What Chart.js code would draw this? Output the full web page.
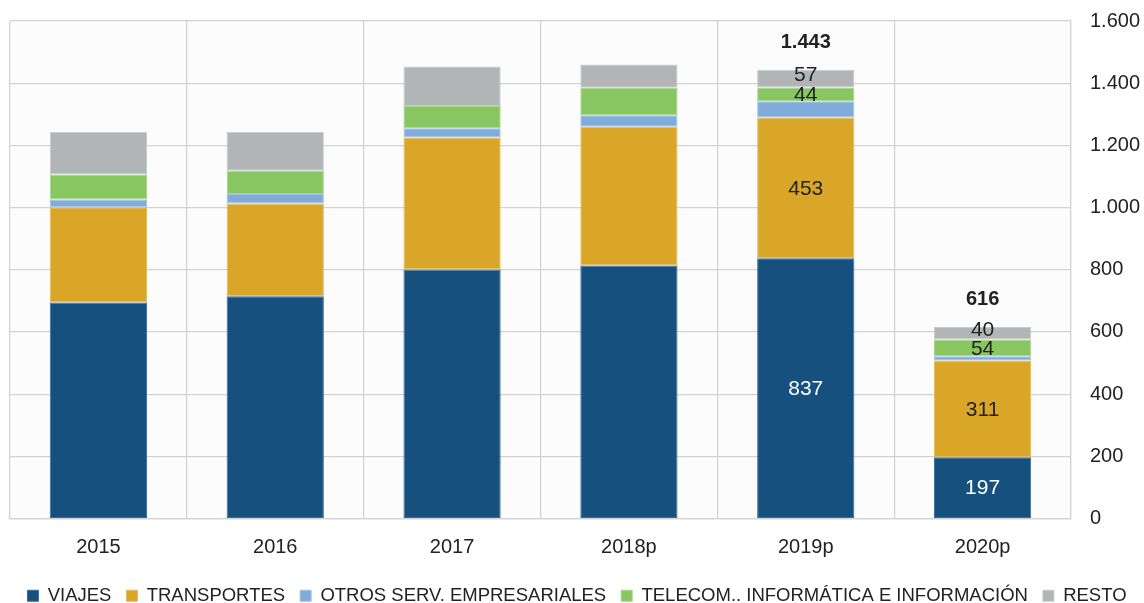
<!DOCTYPE html>
<html>
<head>
<meta charset="utf-8">
<script src="https://cdn.jsdelivr.net/npm/chart.js@4.4.1/dist/chart.umd.min.js"></script>
<style>
  html, body { margin: 0; padding: 0; background: #ffffff; }
  #wrap { width: 1144px; height: 603px; position: relative; overflow: hidden; }
</style>
</head>
<body>
<div id="wrap"><canvas id="c" width="1144" height="603"></canvas></div>
<script>
const categories = ['2015', '2016', '2017', '2018p', '2019p', '2020p'];
const viajes      = [695, 715, 801, 814, 837, 197];
const transportes = [306, 298, 424, 446, 453, 311];
const otrosServ   = [25, 31, 30, 37, 52, 14];
const telecom     = [80, 74, 72, 88, 44, 54];
const resto       = [137, 125, 127, 75, 57, 40];
const totals      = [1243, 1243, 1454, 1460, 1443, 616];
const labeledCategories = ['2019p', '2020p'];
const yTicks = { min: 0, max: 1600, step: 200 };

const seriesNames = ['VIAJES', 'TRANSPORTES', 'OTROS SERV. EMPRESARIALES', 'TELECOM.. INFORMÁTICA E INFORMACIÓN', 'RESTO'];
const seriesData = [viajes, transportes, otrosServ, telecom, resto];
const seriesColors = ['#15507f', '#d9a628', '#80acdb', '#87c660', '#b2b5b6'];
const seriesBorders = ['#3a6c96', '#e3bb5c', '#a3c3e6', '#a6d68a', '#c8cacb'];
const labelColors = ['#ffffff', '#222222', null, '#222222', '#222222'];

function fmt(v) { return String(v).replace(/\B(?=(\d{3})+(?!\d))/g, '.'); }

const FONT = "'Liberation Sans', Arial, sans-serif";

const bgPlugin = {
  id: 'bg',
  beforeDraw(chart) {
    const a = chart.chartArea, ctx = chart.ctx;
    ctx.save();
    ctx.fillStyle = '#fcfcfc';
    ctx.fillRect(a.left, a.top, a.right - a.left, a.bottom - a.top);
    ctx.restore();
  }
};

const labelPlugin = {
  id: 'vals',
  afterDatasetsDraw(chart) {
    const ctx = chart.ctx;
    ctx.save();
    ctx.textAlign = 'center';
    ctx.textBaseline = 'middle';
    categories.forEach((cat, j) => {
      if (!labeledCategories.includes(cat)) return;
      seriesData.forEach((arr, i) => {
        if (!labelColors[i]) return;
        const el = chart.getDatasetMeta(i).data[j];
        const cy = (el.y + el.base) / 2 + (i === 4 ? -4 : 0);
        ctx.font = "21px " + FONT;
        ctx.fillStyle = labelColors[i];
        ctx.fillText(fmt(arr[j]), el.x, cy + 1);
      });
      const top = chart.getDatasetMeta(4).data[j];
      ctx.font = "bold 20px " + FONT;
      ctx.fillStyle = '#222222';
      ctx.fillText(fmt(totals[j]), top.x, top.y - 27);
    });
    ctx.restore();
  }
};

new Chart(document.getElementById('c'), {
  type: 'bar',
  data: {
    labels: categories,
    datasets: seriesData.map((d, i) => ({
      label: seriesNames[i],
      data: d,
      backgroundColor: seriesColors[i],
      borderColor: seriesBorders[i],
      borderWidth: 1,
      borderSkipped: false,
      barPercentage: 0.55,
      categoryPercentage: 1.0
    }))
  },
  options: {
    responsive: false,
    animation: false,
    devicePixelRatio: 1,
    layout: { padding: { left: 10, right: 0, top: 21, bottom: -12 } },
    plugins: {
      legend: {
        position: 'bottom',
        labels: {
          boxWidth: 11,
          boxHeight: 11,
          padding: 15,
          color: '#222222',
          font: { family: FONT, size: 18.5 }
        }
      },
      tooltip: { enabled: false }
    },
    scales: {
      x: {
        stacked: true,
        grid: { color: '#d2d2d2', lineWidth: 1.2, offset: true, drawTicks: false },
        border: { color: '#d2d2d2', width: 1.2 },
        ticks: { color: '#222222', padding: 17, font: { family: FONT, size: 20 } },
        afterFit(scale) { scale.height -= 5; scale.paddingLeft = 0; scale.paddingRight = 0; }
      },
      y: {
        stacked: true,
        position: 'right',
        min: yTicks.min,
        max: yTicks.max,
        grid: { color: '#d2d2d2', lineWidth: 1.2, drawTicks: false },
        border: { color: '#d2d2d2', width: 1.2 },
        ticks: {
          stepSize: yTicks.step,
          padding: 19,
          color: '#222222',
          font: { family: FONT, size: 20 },
          callback: (v) => fmt(v)
        },
        afterFit(scale) { scale.width = 73; scale.paddingTop = 0; scale.paddingBottom = 0; }
      }
    }
  },
  plugins: [bgPlugin, labelPlugin]
});
</script>
</body>
</html>
